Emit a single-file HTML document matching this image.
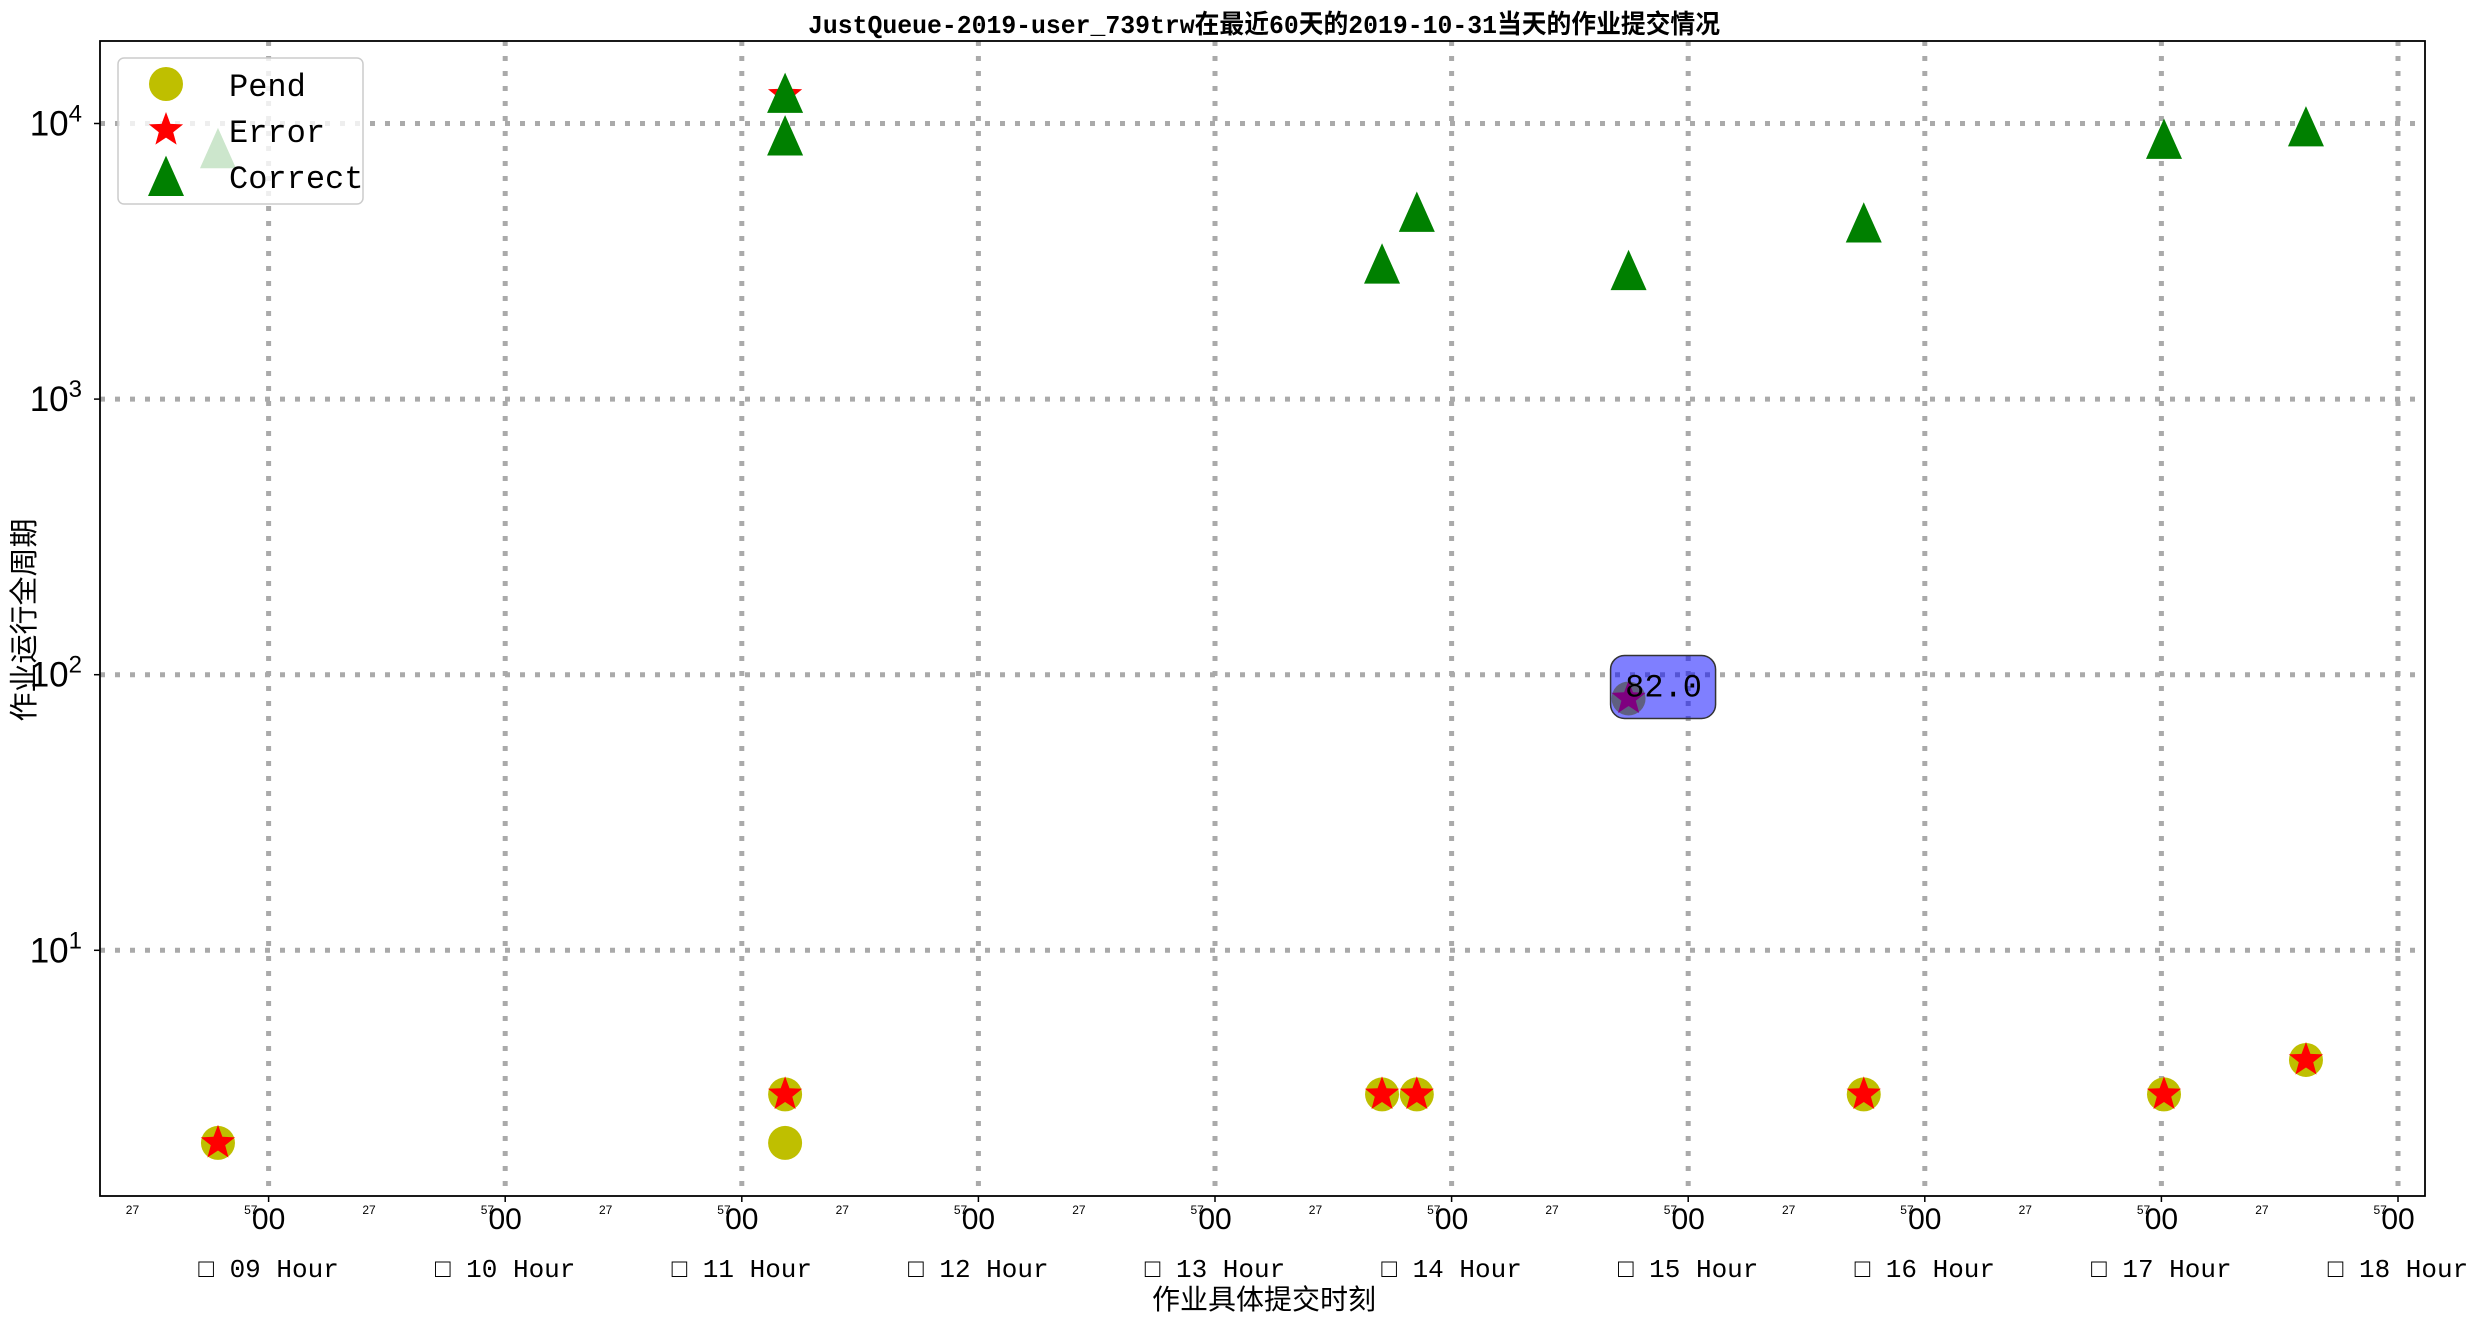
<!DOCTYPE html>
<html><head><meta charset="utf-8"><style>
html,body{margin:0;padding:0;background:#fff;}
svg{display:block;}
</style></head><body>
<svg id="chart" width="2477" height="1322" viewBox="0 0 2477 1322" xmlns="http://www.w3.org/2000/svg" font-family="'Liberation Sans','Noto Sans CJK SC',sans-serif">
<rect x="0" y="0" width="2477" height="1322" fill="#fff"/>
<text x="1264" y="33" text-anchor="middle" font-size="26" font-weight="bold" font-family="'Liberation Mono','Noto Sans CJK SC',monospace" textLength="912" lengthAdjust="spacingAndGlyphs">JustQueue-2019-user_739trw在最近60天的2019-10-31当天的作业提交情况</text>
<g id="grid"></g>
<g id="marks"></g>
<rect x="100" y="41" width="2325" height="1155" fill="none" stroke="#000" stroke-width="1.8"/>
<g id="axes"></g>
<text transform="translate(34,620) rotate(-90)" text-anchor="middle" font-size="29">作业运行全周期</text>
<text x="1264" y="1309" text-anchor="middle" font-size="28">作业具体提交时刻</text>
<g id="legend">
  <rect x="118" y="58" width="245" height="146" rx="6" fill="#fff" fill-opacity="0.8" stroke="#ccc" stroke-width="1.5"/>
</g>
</svg>
<script>
const pendHours = [8.786, 11.183, 11.183, 13.706, 13.853, 14.748, 15.742, 17.011, 17.611];
const pendValues = [2, 3, 2, 3, 3, 82, 3, 3, 4];
const errorHours = [8.786, 11.183, 11.183, 13.706, 13.853, 14.748, 15.742, 17.011, 17.611];
const errorValues = [2, 3, 12700, 3, 3, 82, 3, 3, 4];
const correctHours = [8.786, 11.183, 11.183, 13.706, 13.853, 14.748, 15.742, 17.011, 17.611];
const correctValues = [8000, 12700, 8900, 3050, 4700, 2890, 4300, 8650, 9600];
const hourTicks = [9, 10, 11, 12, 13, 14, 15, 16, 17, 18];
const hourLabels = ["09 Hour","10 Hour","11 Hour","12 Hour","13 Hour","14 Hour","15 Hour","16 Hour","17 Hour","18 Hour"];
const yTickExps = [1, 2, 3, 4];
const annotValue = 82;
const annotHour = 14.748;

const NS = "http://www.w3.org/2000/svg";
function xs(h){ return 268.6 + (h - 9) * 236.6; }
function ys(v){ return 123.5 + (4 - Math.log10(v)) * 275.6; }
function mk(tag, attrs, parent){
  const e = document.createElementNS(NS, tag);
  for (const k in attrs) e.setAttribute(k, attrs[k]);
  parent.appendChild(e); return e;
}
const grid = document.getElementById('grid');
const axes = document.getElementById('axes');
const marks = document.getElementById('marks');
const L=100,R=2425,T=41,B=1196;

hourTicks.forEach((h,i)=>{
  const x = xs(h);
  const g = mk('line',{x1:x,x2:x,y1:T,y2:B,stroke:'#aaa','stroke-width':5,'stroke-dasharray':'5,10'},grid);
  
  
  const t = mk('line',{x1:x,x2:x,y1:B,y2:B+6,stroke:'#000','stroke-width':1.5},axes);
  
  
  const lb = mk('text',{x:x,y:1229,'text-anchor':'middle','font-size':30},axes);
  lb.textContent='00';
  
  
  const hl = mk('text',{x:x,y:1277,'text-anchor':'middle','font-size':26,'font-family':"'Liberation Mono','Noto Sans CJK SC',monospace"},axes);
  hl.textContent='\u25A1 '+hourLabels[i];
  
  
});
for(let h=8; h<=18; h++){
  [27,57].forEach(m=>{
    const x = xs(h + m/60);
    if(x<L||x>R) return;
    const ml = mk('text',{x:x-6,y:1214,'text-anchor':'middle','font-size':12},axes);
    ml.textContent=String(m);
    
    
  });
}
yTickExps.forEach(e=>{
  const y = ys(Math.pow(10,e));
  const g = mk('line',{x1:L,x2:R,y1:y,y2:y,stroke:'#aaa','stroke-width':5,'stroke-dasharray':'5,10'},grid);
  
  
  const t = mk('line',{x1:L-6,x2:L,y1:y,y2:y,stroke:'#000','stroke-width':1.5},axes);
  
  
  const lb = mk('text',{x:82,y:y+12,'text-anchor':'end','font-size':35},axes);
  
  
  lb.textContent='10';
  const sp = mk('tspan',{dy:-14,'font-size':24},lb);
  sp.textContent=String(e);
});

function star(cx,cy,r,fill,parent,opacity){
  let d='';
  for(let i=0;i<10;i++){
    const a=-Math.PI/2+i*Math.PI/5, rr=i%2?r*0.42:r;
    d+=(i?'L':'M')+(cx+rr*Math.cos(a)).toFixed(1)+','+(cy+rr*Math.sin(a)).toFixed(1);
  }
  return mk('path',{d:d+'Z',fill:fill,'fill-opacity':opacity||1},parent);
}
function tri(cx,cy,s,fill,parent,opacity){
  const d=`M${cx},${cy-s*0.62}L${cx+s*0.5},${cy+s*0.5}L${cx-s*0.5},${cy+s*0.5}Z`;
  return mk('path',{d:d,fill:fill,'fill-opacity':opacity||1},parent);
}
pendHours.forEach((h,i)=>{
  const c = mk('circle',{cx:xs(h),cy:ys(pendValues[i]),r:17,fill:'#bfbf00'},marks);
  
  
});
errorHours.forEach((h,i)=>{
  const s = star(xs(h),ys(errorValues[i]),18,'#ff0000',marks);
  
  
});
correctHours.forEach((h,i)=>{
  const t = tri(xs(h),ys(correctValues[i]),36,'#008000',marks);
  
  
});
const ax = xs(annotHour), ay = ys(annotValue);
const ab = mk('rect',{x:ax-18,y:ay-43,width:105,height:63,rx:14,fill:'#0000ff','fill-opacity':0.5,stroke:'#333','stroke-width':1.5},marks);


const at = mk('text',{x:ax+35,y:ay-2,'text-anchor':'middle','font-size':32,'font-family':"'Liberation Mono',monospace"},marks);
at.textContent=annotValue.toFixed(1);



const lg = document.getElementById('legend');
const e1 = mk('circle',{cx:166,cy:84,r:17,fill:'#bfbf00'},lg);


const e2 = star(166,130,18,'#ff0000',lg);


const e3 = tri(166,178,36,'#008000',lg);


[['Pend',96],['Error',142],['Correct',188]].forEach(([t,y])=>{
  const tx = mk('text',{x:229,y:y,'font-size':32,'font-family':"'Liberation Mono',monospace"},lg);
  tx.textContent=t;
  
  
});
</script>
</body></html>
